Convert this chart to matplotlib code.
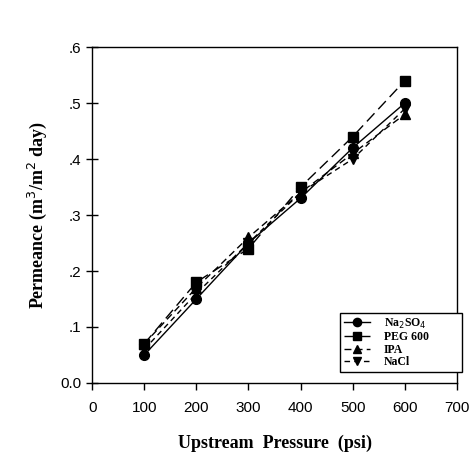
import matplotlib
matplotlib.use("Agg")
import matplotlib.pyplot as plt

# data
pressure = [100, 200, 300, 400, 500, 600]
na2so4 = [0.05, 0.15, 0.25, 0.33, 0.42, 0.50]
peg600 = [0.07, 0.18, 0.24, 0.35, 0.44, 0.54]
ipa = [0.07, 0.17, 0.26, 0.34, 0.41, 0.48]
nacl = [0.06, 0.16, 0.25, 0.34, 0.40, 0.49]

x_ticks = [0, 100, 200, 300, 400, 500, 600, 700]
y_ticks = [0.0, 0.1, 0.2, 0.3, 0.4, 0.5, 0.6]
y_tick_labels = ["0.0", ".1", ".2", ".3", ".4", ".5", ".6"]

fig = plt.figure(figsize=(4.75, 4.57), dpi=100)
ax = fig.add_axes([0.194, 0.162, 0.768, 0.735])

ax.plot(pressure, na2so4, color="black", lw=1.0, ls="-", marker="o", ms=7, label="Na$_2$SO$_4$")
ax.plot(pressure, peg600, color="black", lw=1.0, ls=(0, (8, 4)), marker="s", ms=7, label="PEG 600")
ax.plot(pressure, ipa, color="black", lw=1.0, ls=(0, (5, 3)), marker="^", ms=7, label="IPA")
ax.plot(pressure, nacl, color="black", lw=1.0, ls=(0, (4, 3)), marker="v", ms=7, label="NaCl")

ax.set_xlim(0, 700)
ax.set_ylim(0, 0.6)
ax.set_xticks(x_ticks)
ax.set_yticks(y_ticks)
ax.set_yticklabels(y_tick_labels)
ax.tick_params(axis="both", direction="out", length=5, width=1, labelsize=11, pad=8)
ax.tick_params(axis="y", direction="inout", length=8, pad=4)
for lbl in ax.get_xticklabels() + ax.get_yticklabels():
    lbl.set_family("Liberation Sans")
for s in ax.spines.values():
    s.set_linewidth(1.0)

ax.set_xlabel("Upstream  Pressure  (psi)", family="Liberation Serif", fontweight="bold",
              fontsize=13, labelpad=14)
ax.set_ylabel("Permeance (m$^3$/m$^2$ day)", family="Liberation Serif", fontweight="bold",
              fontsize=13, labelpad=8)

leg = ax.legend(loc="lower left", bbox_to_anchor=(0.68, 0.033, 0.335, 0.15), mode="expand",
                fancybox=False, edgecolor="black", framealpha=1, handlelength=2.2,
                handletextpad=1.2, markerscale=0.85,
                borderpad=0.3, labelspacing=0.05, borderaxespad=0,
                prop={"family": "Liberation Serif", "size": 8.5, "weight": "bold"})
leg.get_frame().set_linewidth(1.0)

fig.savefig("out.png", dpi=100)
